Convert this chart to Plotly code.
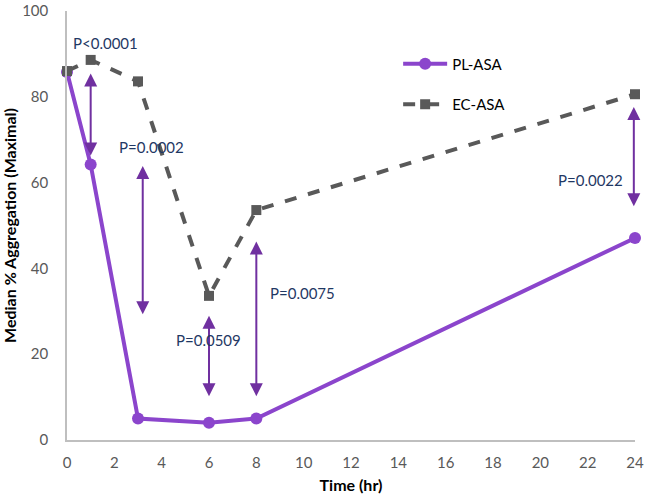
import plotly.graph_objects as go

time_hr = [0, 1, 3, 6, 8, 24]
pl_asa = [85.8, 64.2, 5.0, 4.0, 5.0, 47.1]
ec_asa = [86.0, 88.6, 83.6, 33.6, 53.6, 80.6]

# significance arrows: x position, top, bottom (data units)
arrow_x = [1.0, 3.2, 6.0, 8.0, 23.95]
arrow_top = [85.8, 64.2, 29.3, 46.6, 78.0]
arrow_bottom = [66.3, 29.3, 10.2, 10.2, 54.5]

# p-value labels: text, x, y (data units)
p_text = ["P<0.0001", "P=0.0002", "P=0.0509", "P=0.0075", "P=0.0022"]
p_x = [1.61, 3.55, 5.96, 9.93, 22.1]
p_y = [92.6, 68.4, 23.3, 34.2, 60.5]

purple = "#8B45CC"
gray = "#595959"
arrow_col = "#7030A0"
navy = "#1F3864"
font_family = "Lato, Open Sans, sans-serif"

fig = go.Figure()
fig.add_trace(go.Scatter(
    x=time_hr, y=pl_asa, name="PL-ASA", mode="lines+markers",
    line=dict(color=purple, width=4),
    marker=dict(color=purple, size=12, symbol="circle"),
    cliponaxis=False, legendgroup="a"))
fig.add_trace(go.Scatter(
    x=time_hr, y=ec_asa, name="EC-ASA", mode="lines+markers",
    line=dict(color=gray, width=4, dash="dash"),
    marker=dict(color=gray, size=10, symbol="square"),
    cliponaxis=False, legendgroup="b"))

annotations = []
for xa, yt, yb in zip(arrow_x, arrow_top, arrow_bottom):
    annotations.append(dict(
        x=xa, y=yb, ax=xa, ay=yt, xref="x", yref="y", axref="x", ayref="y",
        text="", showarrow=True, arrowhead=2, startarrowhead=2,
        arrowside="end+start", arrowsize=1.3, startarrowsize=1.3,
        arrowwidth=2, arrowcolor=arrow_col, standoff=0, startstandoff=0))
for t, xp, yp in zip(p_text, p_x, p_y):
    annotations.append(dict(
        x=xp, y=yp, xref="x", yref="y", text=t, showarrow=False,
        font=dict(family=font_family, size=15, color=navy)))

fig.update_layout(
    width=646, height=494,
    margin=dict(l=67, r=11, t=11, b=54),
    paper_bgcolor="white", plot_bgcolor="white",
    font=dict(family=font_family, size=15, color=gray),
    showlegend=True,
    legend=dict(x=0.583, y=0.915, xanchor="left", yanchor="top",
                font=dict(size=15, color="black"),
                tracegroupgap=18, itemwidth=44,
                bgcolor="rgba(0,0,0,0)"),
    annotations=annotations,
    xaxis=dict(
        range=[0, 24], tickmode="array",
        tickvals=list(range(0, 25, 2)),
        showgrid=False, zeroline=False, automargin=False,
        ticklabeloverflow="allow",
        showline=True, linecolor="#BFBFBF", linewidth=1.5,
        ticks="outside", ticklen=8, tickcolor="rgba(0,0,0,0)",
        tickfont=dict(size=15, color=gray),
        title=dict(text="<b>Time (hr)</b>", font=dict(size=16, color="black"))),
    yaxis=dict(
        range=[0, 100], tickmode="array",
        tickvals=[0, 20, 40, 60, 80, 100],
        showgrid=False, zeroline=False, automargin=False,
        ticklabeloverflow="allow",
        showline=True, linecolor="#BFBFBF", linewidth=1.5,
        ticks="outside", ticklen=14, tickcolor="rgba(0,0,0,0)",
        tickfont=dict(size=15, color=gray),
        title=dict(text="<b>Median % Aggregation (Maximal)</b>", font=dict(size=16, color="black"))),
)

fig.write_html("out.html", config={"displayModeBar": False},
               post_script="document.body.style.margin='0';")
